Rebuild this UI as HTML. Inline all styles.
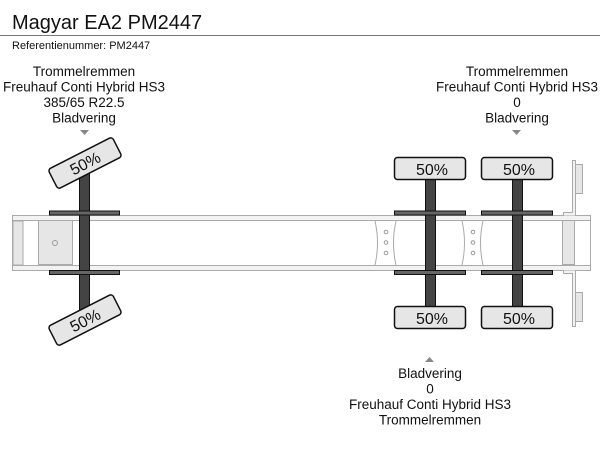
<!DOCTYPE html>
<html><head><meta charset="utf-8"><style>
html,body{margin:0;padding:0;background:#fff;width:600px;height:450px;overflow:hidden}
svg{display:block}
text{font-family:"Liberation Sans",Arial,sans-serif;fill:#111}
</style></head><body>
<svg width="600" height="450" viewBox="0 0 600 450" xmlns="http://www.w3.org/2000/svg">
<text x="12" y="29" font-size="20">Magyar EA2 PM2447</text>
<line x1="0" y1="35.5" x2="600" y2="35.5" stroke="#777" stroke-width="1"/>
<text x="12" y="49" font-size="11">Referentienummer: PM2447</text>

<g font-size="13.5" text-anchor="middle">
<text x="84" y="76">Trommelremmen</text>
<text x="84" y="91.5">Freuhauf Conti Hybrid HS3</text>
<text x="84" y="107">385/65 R22.5</text>
<text x="84" y="122.5">Bladvering</text>
<text x="517" y="76">Trommelremmen</text>
<text x="517" y="91.5">Freuhauf Conti Hybrid HS3</text>
<text x="517" y="107">0</text>
<text x="517" y="122.5">Bladvering</text>
<text x="430" y="378">Bladvering</text>
<text x="430" y="393.5">0</text>
<text x="430" y="409">Freuhauf Conti Hybrid HS3</text>
<text x="430" y="424.5">Trommelremmen</text>
</g>
<polygon points="80,130 89,130 84.5,135" fill="#888"/>
<polygon points="512,130 521,130 516.5,135" fill="#888"/>
<polygon points="425,362 434,362 429.5,357" fill="#888"/>

<rect x="12.5" y="215.5" width="578" height="55" fill="#fff" stroke="#aaa"/>
<rect x="12.5" y="215.5" width="578" height="5" fill="#f2f2f2" stroke="#aaa"/>
<rect x="12.5" y="265.5" width="578" height="5" fill="#f2f2f2" stroke="#aaa"/>
<rect x="13" y="221" width="10" height="44" fill="#e6e6e6" stroke="#aaa"/>
<rect x="38.5" y="220.5" width="34" height="44" fill="#e6e6e6" stroke="#aaa"/>
<circle cx="55" cy="243" r="2.5" fill="none" stroke="#999"/>
<path d="M375,221 Q380,243 375,265 M396,221 Q391,243 396,265" fill="none" stroke="#aaa"/>
<path d="M462,221 Q467,243 462,265 M483,221 Q478,243 483,265" fill="none" stroke="#aaa"/>
<g fill="none" stroke="#999"><circle cx="386" cy="232" r="1.8"/><circle cx="386" cy="242.5" r="1.8"/><circle cx="386" cy="253" r="1.8"/>
<circle cx="473" cy="232" r="1.8"/><circle cx="473" cy="242.5" r="1.8"/><circle cx="473" cy="253" r="1.8"/></g>
<rect x="562.5" y="220.5" width="12" height="44" fill="#e6e6e6" stroke="#aaa"/>
<path d="M563.5,215.5 V212.5 H572.5 V160.5 H575.5 V215.5" fill="#f2f2f2" stroke="#aaa"/>
<path d="M563.5,270.5 V273.5 H572.5 V326.5 H575.5 V270.5" fill="#f2f2f2" stroke="#aaa"/>
<rect x="575.5" y="164.5" width="7" height="29" fill="#e6e6e6" stroke="#aaa"/>
<rect x="575.5" y="292.5" width="7" height="29" fill="#e6e6e6" stroke="#aaa"/>

<rect x="79.5" y="170" width="10" height="140" fill="#444" stroke="#111"/>
<rect x="49.5" y="211" width="70" height="4" fill="#666" stroke="#111"/>
<rect x="49.5" y="270.5" width="70" height="4" fill="#666" stroke="#111"/>
<g transform="translate(85,163) rotate(-27)">
<rect x="-36" y="-11" width="72" height="22" rx="3" fill="#e6e6e6" stroke="#111" stroke-width="1.5"/>
<text x="0" y="6" font-size="16" text-anchor="middle">50%</text></g>
<g transform="translate(85,320) rotate(-27)">
<rect x="-36" y="-11" width="72" height="22" rx="3" fill="#e6e6e6" stroke="#111" stroke-width="1.5"/>
<text x="0" y="6" font-size="16" text-anchor="middle">50%</text></g>

<g>
<rect x="425.5" y="178" width="10" height="130" fill="#444" stroke="#111"/>
<rect x="394.5" y="211" width="71" height="4" fill="#666" stroke="#111"/>
<rect x="394.5" y="270.5" width="71" height="4" fill="#666" stroke="#111"/>
<rect x="394.5" y="157.5" width="71" height="22" rx="3" fill="#e6e6e6" stroke="#111" stroke-width="1.5"/>
<text x="432" y="175" font-size="16" text-anchor="middle">50%</text>
<rect x="394.5" y="306.5" width="71" height="22" rx="3" fill="#e6e6e6" stroke="#111" stroke-width="1.5"/>
<text x="432" y="324" font-size="16" text-anchor="middle">50%</text>
</g>
<g transform="translate(87,0)">
<rect x="425.5" y="178" width="10" height="130" fill="#444" stroke="#111"/>
<rect x="394.5" y="211" width="71" height="4" fill="#666" stroke="#111"/>
<rect x="394.5" y="270.5" width="71" height="4" fill="#666" stroke="#111"/>
<rect x="394.5" y="157.5" width="71" height="22" rx="3" fill="#e6e6e6" stroke="#111" stroke-width="1.5"/>
<text x="432" y="175" font-size="16" text-anchor="middle">50%</text>
<rect x="394.5" y="306.5" width="71" height="22" rx="3" fill="#e6e6e6" stroke="#111" stroke-width="1.5"/>
<text x="432" y="324" font-size="16" text-anchor="middle">50%</text>
</g>
</svg>
</body></html>
